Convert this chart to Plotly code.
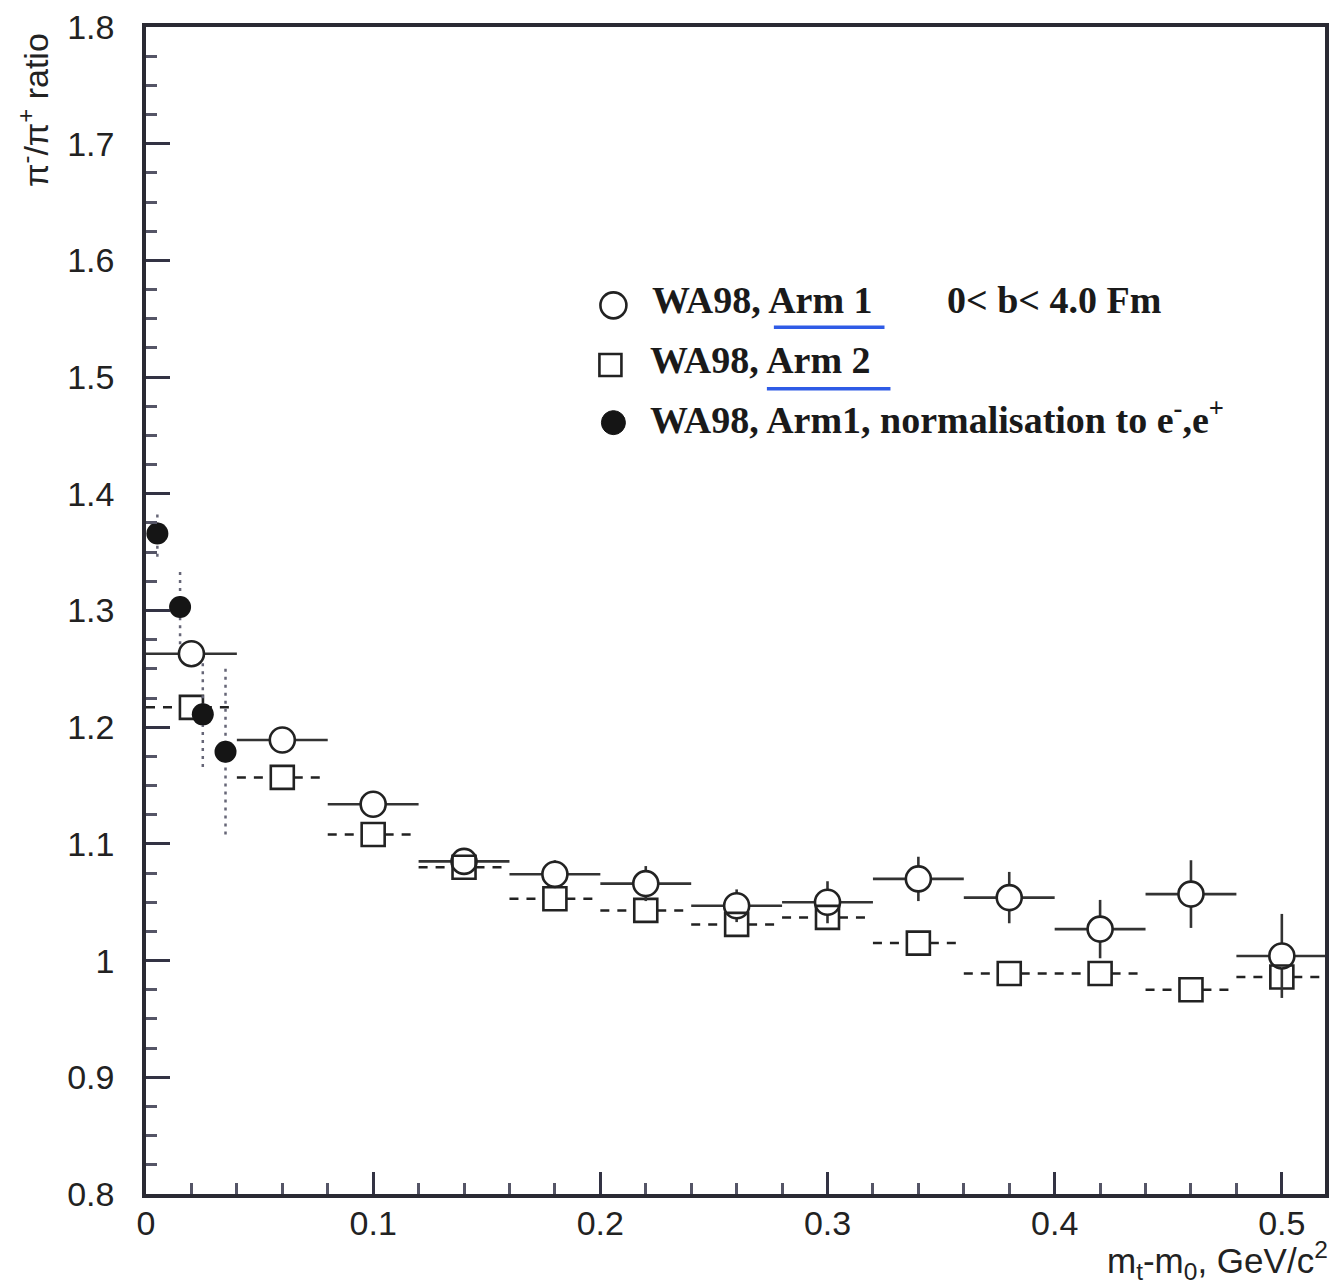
import plotly.graph_objects as go

# --- data -------------------------------------------------------------
# transverse-mass bins (bin centres), half-width 0.02 GeV/c^2
mt_bins = [0.02, 0.06, 0.10, 0.14, 0.18, 0.22, 0.26, 0.30, 0.34, 0.38, 0.42, 0.46, 0.50]
bin_halfwidth = 0.02

# WA98 Arm 1 (open circles)
arm1_ratio = [1.263, 1.189, 1.134, 1.085, 1.074, 1.066, 1.047, 1.050, 1.070, 1.054, 1.027, 1.057, 1.004]
arm1_err = [0.010, 0.010, 0.010, 0.010, 0.012, 0.015, 0.014, 0.018, 0.019, 0.022, 0.025, 0.029, 0.036]

# WA98 Arm 2 (open squares)
arm2_ratio = [1.217, 1.157, 1.108, 1.080, 1.053, 1.043, 1.031, 1.037, 1.015, 0.989, 0.989, 0.975, 0.986]

# WA98 Arm 1, normalisation to e-, e+ (filled circles)
norm_mt = [0.005, 0.015, 0.025, 0.035]
norm_ratio = [1.366, 1.303, 1.211, 1.179]
norm_err = [0.020, 0.032, 0.045, 0.071]

x_ticks = [0, 0.1, 0.2, 0.3, 0.4, 0.5]
x_tick_text = ["0", "0.1", "0.2", "0.3", "0.4", "0.5"]

# --- geometry --------------------------------------------------------
W, H = 1337, 1286
ML, MR, MT, MB = 146, 8, 20, 92
X_RANGE = [0, 0.519]
Y_RANGE = [0.8, 1.8]
px_x = (X_RANGE[1] - X_RANGE[0]) / (W - ML - MR)   # data units per pixel
px_y = (Y_RANGE[1] - Y_RANGE[0]) / (H - MT - MB)

INK = "#222222"


def hsegments(xc, yc, half, gap):
    """Horizontal error segments, split around the marker."""
    xs, ys = [], []
    for x, y in zip(xc, yc):
        xs += [x - half, x - gap, None, x + gap, x + half, None]
        ys += [y, y, None, y, y, None]
    return xs, ys


def vsegments(xc, yc, err, gap):
    """Vertical error segments, split around the marker."""
    xs, ys = [], []
    for x, y, e in zip(xc, yc, err):
        if e <= gap:
            continue
        xs += [x, x, None, x, x, None]
        ys += [y - e, y - gap, None, y + gap, y + e, None]
    return xs, ys


fig = go.Figure()

# Arm 2: dashed bin-width bars + open squares
sq_half = 11.5
xs, ys = hsegments(mt_bins, arm2_ratio, bin_halfwidth, sq_half * px_x)
fig.add_trace(go.Scatter(x=xs, y=ys, mode="lines", hoverinfo="skip",
                         line=dict(color=INK, width=2.5, dash="9px,8px")))
fig.add_trace(go.Scatter(x=mt_bins, y=arm2_ratio, mode="markers", name="WA98, Arm 2",
                         marker=dict(symbol="square-open", size=23,
                                     line=dict(color=INK, width=2.6), color=INK)))

# Arm 1: solid bars + open circles
c_half = 12.5
xs, ys = hsegments(mt_bins, arm1_ratio, bin_halfwidth, c_half * px_x)
fig.add_trace(go.Scatter(x=xs, y=ys, mode="lines", hoverinfo="skip",
                         line=dict(color="#333333", width=2.6)))
xs, ys = vsegments(mt_bins, arm1_ratio, arm1_err, c_half * px_y)
fig.add_trace(go.Scatter(x=xs, y=ys, mode="lines", hoverinfo="skip",
                         line=dict(color="#333333", width=2.6)))
fig.add_trace(go.Scatter(x=mt_bins, y=arm1_ratio, mode="markers", name="WA98, Arm 1",
                         marker=dict(symbol="circle-open", size=25,
                                     line=dict(color=INK, width=2.6), color=INK)))

# e-/e+ normalised points: dotted vertical errors + filled circles
xs, ys = vsegments(norm_mt, norm_ratio, norm_err, 0.0)
fig.add_trace(go.Scatter(x=xs, y=ys, mode="lines", hoverinfo="skip",
                         line=dict(color="#666677", width=2.5, dash="3px,5px")))
fig.add_trace(go.Scatter(x=norm_mt, y=norm_ratio, mode="markers",
                         name="WA98, Arm1, normalisation to e-,e+",
                         marker=dict(symbol="circle", size=22, color="#151515")))

# --- legend block (drawn in paper coordinates) ------------------------
def pxx(p):
    return (p - ML) / (W - ML - MR)


def pxy(p):
    return (H - MB - p) / (H - MT - MB)


legend_font = dict(family="Liberation Serif, Times New Roman, serif", size=38, color="#1a1a1a")
shapes = [
    dict(type="circle", xref="paper", yref="paper", xsizemode="pixel", ysizemode="pixel",
         xanchor=pxx(615), yanchor=pxy(300), x0=-13, x1=13, y0=-13, y1=13,
         line=dict(color=INK, width=2.6)),
    dict(type="rect", xref="paper", yref="paper", xsizemode="pixel", ysizemode="pixel",
         xanchor=pxx(612), yanchor=pxy(360), x0=-11, x1=11, y0=-11, y1=11,
         line=dict(color=INK, width=2.6)),
    dict(type="circle", xref="paper", yref="paper", xsizemode="pixel", ysizemode="pixel",
         xanchor=pxx(615), yanchor=pxy(418), x0=-12, x1=12, y0=-12, y1=12,
         line=dict(color="#151515", width=1), fillcolor="#151515"),
    # blue underlines
    dict(type="line", xref="paper", yref="paper", x0=pxx(776), x1=pxx(887),
         y0=pxy(322), y1=pxy(322), line=dict(color="#2f5be6", width=3.5)),
    dict(type="line", xref="paper", yref="paper", x0=pxx(769), x1=pxx(893),
         y0=pxy(384), y1=pxy(384), line=dict(color="#2f5be6", width=3.5)),
]

annotations = [
    dict(text="<b>WA98, Arm 1</b>", x=pxx(652), y=pxy(295), xanchor="left", yanchor="middle"),
    dict(text="<b>0&lt; b&lt; 4.0 Fm</b>", x=pxx(948), y=pxy(295), xanchor="left", yanchor="middle"),
    dict(text="<b>WA98, Arm 2</b>", x=pxx(650), y=pxy(355), xanchor="left", yanchor="middle"),
    dict(text="<b>WA98, Arm1, normalisation to e<sup>-</sup>,e<sup>+</sup></b>",
         x=pxx(650), y=pxy(412), xanchor="left", yanchor="middle"),
]
for a in annotations:
    a.update(xref="paper", yref="paper", showarrow=False, font=legend_font)

axis_font = dict(family="Liberation Sans, Arial, sans-serif", size=34, color=INK)
annotations += [
    dict(text="π<sup>-</sup>/π<sup>+</sup> ratio", textangle=-90, xref="paper", yref="paper",
         x=0, y=1, xanchor="center", yanchor="top", xshift=33 - ML, yshift=-4,
         showarrow=False, font=dict(family="Liberation Sans, Arial, sans-serif", size=34, color=INK)),
    dict(text="m<sub>t</sub>-m<sub>0</sub>, GeV/c<sup>2</sup>", xref="paper", yref="paper",
         x=1, y=0, xanchor="right", yanchor="top", xshift=5, yshift=-40,
         showarrow=False, font=dict(family="Liberation Sans, Arial, sans-serif", size=35, color=INK)),
]

fig.update_layout(
    width=W, height=H,
    margin=dict(l=ML, r=MR, t=MT, b=MB),
    paper_bgcolor="white", plot_bgcolor="white",
    showlegend=False,
    shapes=shapes,
    annotations=annotations,
    xaxis=dict(range=X_RANGE, tickvals=x_ticks, ticktext=x_tick_text,
               ticks="inside", ticklen=22, tickwidth=2.5, tickcolor="#333344",
               minor=dict(dtick=0.02, ticks="inside", ticklen=11, tickwidth=2.5, tickcolor="#555566"),
               showline=True, linecolor="#2a2a33", linewidth=3.5, mirror=True,
               showgrid=False, zeroline=False, tickfont=axis_font, ticklabelstandoff=-4),
    yaxis=dict(range=Y_RANGE, dtick=0.1, tick0=0.8,
               ticks="inside", ticklen=24, tickwidth=2.5, tickcolor="#333344",
               minor=dict(dtick=0.025, ticks="inside", ticklen=11, tickwidth=2.5, tickcolor="#555566"),
               showline=True, linecolor="#2a2a33", linewidth=3.5, mirror=True,
               showgrid=False, zeroline=False, tickfont=axis_font, ticklabelstandoff=21),
)

fig.write_html("out.html")
